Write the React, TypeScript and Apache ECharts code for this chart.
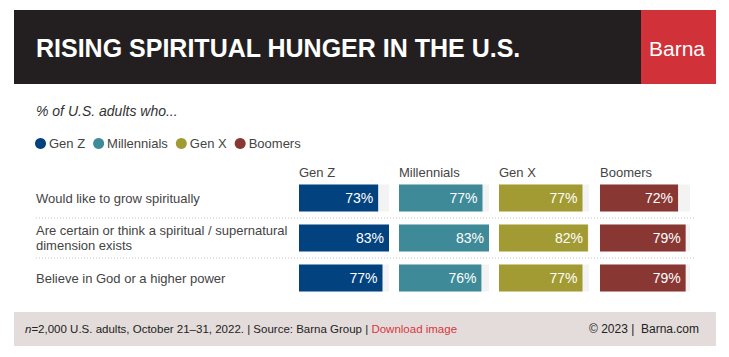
import React, { useEffect, useRef } from 'react';
import * as echarts from 'echarts';

const statements = [
  'Would like to grow spiritually',
  'Are certain or think a spiritual / supernatural\ndimension exists',
  'Believe in God or a higher power',
];
const generations = ['Gen Z', 'Millennials', 'Gen X', 'Boomers'];
const genZ = [73, 83, 77];
const millennials = [77, 83, 76];
const genX = [77, 82, 77];
const boomers = [72, 79, 79];
const seriesValues = [genZ, millennials, genX, boomers];
const axisMax = 83;

const title = 'RISING SPIRITUAL HUNGER IN THE U.S.';
const subtitle = '% of U.S. adults who...';
const brand = 'Barna';
const footerLeft = '{i|n}=2,000 U.S. adults, October 21\u201331, 2022. | Source: Barna Group | {r|Download image}';
const footerRight = '\u00a9 2023 |  Barna.com';

const colors = ['#02427f', '#3e8a98', '#a29b33', '#893733'];
const FONT = '"Liberation Sans", Arial, Helvetica, sans-serif';

const colLeft = [299, 399, 499, 600];
const colWidth = 90;
const gridTop = 178;
const gridHeight = 120;

export default function App() {
  const ref = useRef<HTMLDivElement>(null);
  useEffect(() => {
    if (!ref.current) return;
    const chart = echarts.init(ref.current, undefined, { renderer: 'svg' });
    const grids = colLeft.map((l) => ({ left: l, top: gridTop, width: colWidth, height: gridHeight }));
    const xAxes = colLeft.map((_, i) => ({
      type: 'value', gridIndex: i, min: 0, max: axisMax, show: false,
    }));
    const yAxes = colLeft.map((_, i) => ({
      type: 'category', gridIndex: i, data: statements, inverse: true,
      axisLine: { show: false }, axisTick: { show: false }, splitLine: { show: false },
      axisLabel: i === 0
        ? { show: true, align: 'left', margin: 263, fontSize: 13, color: '#444', fontFamily: FONT, lineHeight: 15 }
        : { show: false },
    }));
    const series = generations.map((g, i) => ({
      name: g, type: 'bar', xAxisIndex: i, yAxisIndex: i, data: seriesValues[i],
      barWidth: 27, itemStyle: { color: colors[i] },
      showBackground: true, backgroundStyle: { color: '#f3f3f3' },
      label: {
        show: true, position: 'insideRight', distance: 5, formatter: '{c}%',
        color: '#fff', fontSize: 14, fontFamily: FONT,
      },
    }));
    const graphic: any[] = [
      { type: 'rect', shape: { x: 14, y: 10, width: 702, height: 74 }, style: { fill: '#231f20' } },
      { type: 'rect', shape: { x: 641, y: 10, width: 75, height: 74 }, style: { fill: '#d1323a' } },
      { type: 'text', x: 36, y: 48, style: { text: title, fill: '#fff', font: `bold 25px ${FONT}`, textVerticalAlign: 'middle' } },
      { type: 'text', x: 677, y: 48, style: { text: brand, fill: '#fff', font: `21px ${FONT}`, textAlign: 'center', textVerticalAlign: 'middle' } },
      { type: 'text', x: 36, y: 111, style: { text: subtitle, fill: '#333', font: `italic 14px ${FONT}`, textVerticalAlign: 'middle' } },
      ...generations.map((g, i) => ({
        type: 'text', x: colLeft[i], y: 172,
        style: { text: g, fill: '#444', font: `13px ${FONT}`, textVerticalAlign: 'middle' },
      })),
      ...[218, 258].map((y) => ({
        type: 'line', shape: { x1: 36, y1: y, x2: 694, y2: y },
        style: { stroke: '#c4c4c4', lineWidth: 1, lineDash: [1, 2] },
      })),
      { type: 'rect', shape: { x: 14, y: 312, width: 702, height: 34 }, style: { fill: '#e3dcdb' } },
      {
        type: 'text', x: 25, y: 329,
        style: {
          text: footerLeft, fill: '#222', font: `11.5px ${FONT}`, textVerticalAlign: 'middle',
          rich: { i: { fontStyle: 'italic', fontSize: 11.5, fill: '#222', fontFamily: FONT }, r: { fill: '#d9363e', fontSize: 11.5, fontFamily: FONT } },
        },
      },
      { type: 'text', x: 699, y: 329, style: { text: footerRight, fill: '#222', font: `12px ${FONT}`, textAlign: 'right', textVerticalAlign: 'middle' } },
    ];
    chart.setOption({
      animation: false,
      backgroundColor: '#fff',
      grid: grids,
      xAxis: xAxes,
      yAxis: yAxes,
      series,
      legend: {
        data: generations, left: 35, top: 137, icon: 'circle', itemWidth: 11, itemHeight: 11,
        itemGap: 8, padding: 0, textStyle: { fontSize: 13, color: '#444', fontFamily: FONT, padding: [0, 0, 0, -2] },
      },
      graphic,
    });
    return () => chart.dispose();
  }, []);
  return <div ref={ref} style={{ position: 'absolute', left: 0, top: 0, width: 729, height: 357 }} />;
}
